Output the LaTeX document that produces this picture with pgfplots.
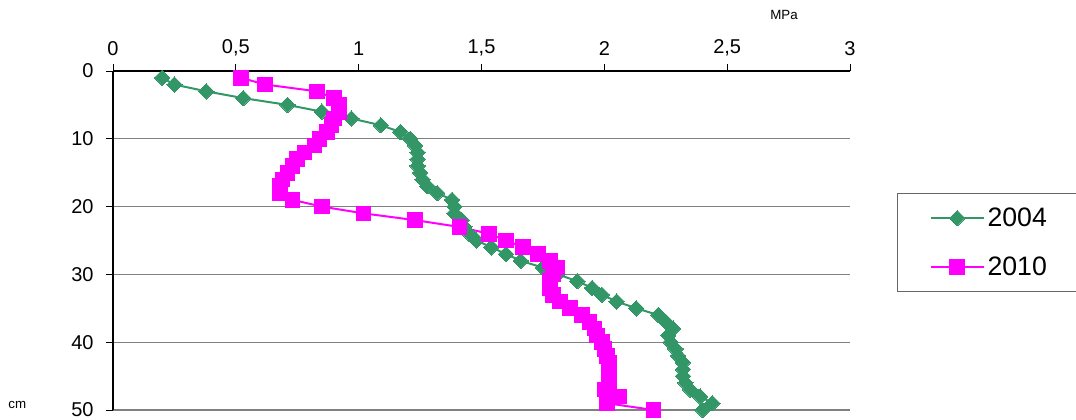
\documentclass[border=0pt]{standalone}
\usepackage{fontspec}
\setmainfont{Liberation Sans}
\usepackage{pgfplots}
\pgfplotsset{compat=1.18}
\definecolor{sgreen}{RGB}{51,150,102}
\definecolor{mag}{RGB}{255,0,255}
\newcommand{\tlf}{\fontsize{15}{17}\selectfont}
\begin{document}
\begin{tikzpicture}
\useasboundingbox (0,0) rectangle (807pt,315pt);
\begin{axis}[
  at={(84.75pt,7.5pt)}, anchor=south west,
  scale only axis, width=552.75pt, height=254.25pt,
  xmin=0, xmax=3, ymin=0, ymax=50,
  y dir=reverse,
  axis x line=top, axis y line=left,
  axis line style={-, black, line width=1.2pt},
  xtick={0,0.5,1,1.5,2,2.5,3}, ytick={0,10,20,30,40,50},
  xticklabels={{\tlf 0},{\tlf 0,5},{\tlf 1},{\tlf 1,5},{\tlf 2},{\tlf 2,5},{\tlf 3}},
  yticklabels={{\tlf 0},{\tlf 10},{\tlf 20},{\tlf 30},{\tlf 40},{\tlf 50}},
  tick align=outside, major tick length=5pt,
  tick style={black, line width=0.6pt},
  ymajorgrids, grid style={gray, line width=1pt},
  xticklabel style={yshift=3pt},
  yticklabel style={xshift=-6pt},
  clip=false,
  legend style={at={(1.064,0.640)}, anchor=north west, draw=black!60, line width=0.6pt,
    font=\fontsize{20}{22}\selectfont, row sep=17pt, inner xsep=24pt, inner ysep=8.75pt},
  legend cell align=left,
  legend image code/.code={\draw[mark repeat=2,mark phase=2,#1] plot coordinates {(0pt,0pt) (20pt,0pt) (40pt,0pt)};},
]
\addplot[sgreen, line width=1.5pt, mark=diamond*, mark size=5.8pt, mark options={fill=sgreen, line width=0pt, xscale=1.33}] coordinates {
(0.20,1) (0.25,2) (0.38,3) (0.53,4) (0.71,5) (0.85,6) (0.97,7) (1.09,8) (1.17,9) (1.21,10)
(1.23,11) (1.24,12) (1.24,13) (1.24,14) (1.25,15) (1.26,16) (1.28,17) (1.32,18) (1.38,19) (1.39,20)
(1.39,21) (1.42,22) (1.43,23) (1.45,24) (1.48,25) (1.54,26) (1.60,27) (1.66,28) (1.75,29) (1.81,30)
(1.89,31) (1.95,32) (1.99,33) (2.05,34) (2.13,35) (2.22,36) (2.25,37) (2.28,38) (2.26,39) (2.27,40)
(2.29,41) (2.30,42) (2.32,43) (2.32,44) (2.32,45) (2.33,46) (2.35,47) (2.39,48) (2.44,49) (2.40,50)
};
\addlegendentry{2004}
\addplot[mag, line width=1.5pt, mark=square*, mark size=5.5pt, mark options={fill=mag, line width=0pt}] coordinates {
(0.52,1) (0.62,2) (0.83,3) (0.90,4) (0.92,5) (0.92,6) (0.90,7) (0.89,8) (0.87,9) (0.84,10)
(0.82,11) (0.78,12) (0.75,13) (0.73,14) (0.71,15) (0.69,16) (0.68,17) (0.68,18) (0.73,19) (0.85,20)
(1.02,21) (1.23,22) (1.41,23) (1.53,24) (1.60,25) (1.67,26) (1.73,27) (1.78,28) (1.81,29) (1.79,30)
(1.78,31) (1.78,32) (1.79,33) (1.82,34) (1.86,35) (1.91,36) (1.94,37) (1.96,38) (1.97,39) (1.99,40)
(2.00,41) (2.01,42) (2.02,43) (2.02,44) (2.02,45) (2.02,46) (2.00,47) (2.06,48) (2.01,49) (2.20,50)
};
\addlegendentry{2010}
\end{axis}
\node[font=\fontsize{10}{12}\selectfont] at (588pt,303.75pt) {MPa};
\node[font=\fontsize{10}{12}\selectfont] at (13pt,11pt) {cm};
\end{tikzpicture}
\end{document}
